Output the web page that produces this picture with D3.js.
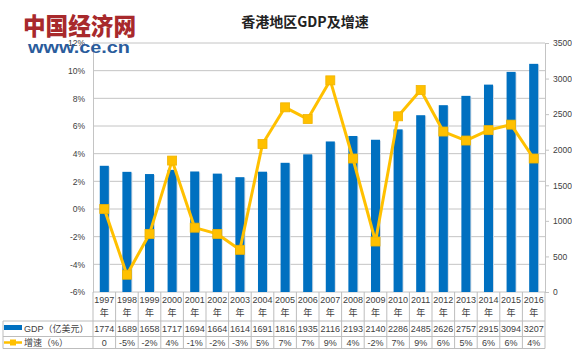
<!DOCTYPE html>
<html><head><meta charset="utf-8">
<script src="https://cdn.jsdelivr.net/npm/d3@7"></script>
<style>body{margin:0;background:#fff}svg{display:block}</style>
</head><body>
<script>
const years = ["1997","1998","1999","2000","2001","2002","2003","2004","2005","2006","2007","2008","2009","2010","2011","2012","2013","2014","2015","2016"];
const gdp = [1774,1689,1658,1717,1694,1664,1614,1691,1816,1935,2116,2193,2140,2286,2485,2626,2757,2915,3094,3207];
const growth = [0,-4.75,-1.8,3.5,-1.35,-1.8,-2.95,4.7,7.35,6.5,9.3,3.65,-2.35,6.7,8.6,5.6,4.95,5.7,6.1,3.65];
const growthLabels = ["0","-5%","-2%","4%","-1%","-2%","-3%","5%","7%","7%","9%","4%","-2%","7%","9%","6%","5%","6%","6%","4%"];
const leftTicks = [-6,-4,-2,0,2,4,6,8,10,12];
const rightTicks = [0,500,1000,1500,2000,2500,3000,3500];
const title = "香港地区GDP及增速";
const seriesNames = ["GDP（亿美元）","增速（%）"];

const W=572,H=356;
const L=93,R=545,T=43,B=292;
const svg=d3.select("body").append("svg").attr("width",W).attr("height",H);
const font="'Liberation Sans','Noto Sans CJK SC',sans-serif";

const x=d3.scaleBand().domain(years).range([L,R]);
const yL=d3.scaleLinear().domain([-6,12]).range([B,T]);
const yR=d3.scaleLinear().domain([0,3500]).range([B,T]);

// gridlines
svg.append("g").selectAll("line").data(leftTicks).join("line")
  .attr("x1",L).attr("x2",R).attr("y1",d=>yL(d)).attr("y2",d=>yL(d))
  .attr("stroke","#c4c4c4").attr("stroke-width",1);

// axes
const gl=svg.append("g").attr("transform",`translate(${L},0)`)
  .call(d3.axisLeft(yL).tickValues(leftTicks).tickFormat(d=>d+"%").tickSize(0).tickPadding(8));
const gr=svg.append("g").attr("transform",`translate(${R},0)`)
  .call(d3.axisRight(yR).tickValues(rightTicks).tickFormat(d3.format("d")).tickSize(4).tickPadding(4));
[gl,gr].forEach(g=>{
  g.selectAll("text").attr("font-family",font).attr("font-size",8.5).attr("fill","#404040");
  g.select(".domain").attr("stroke","#c4c4c4");
  g.selectAll(".tick line").attr("stroke","#c4c4c4");
});

// bars
const bw=x.bandwidth()*0.4;
svg.append("g").selectAll("rect.sh").data(gdp).join("rect")
  .attr("x",(d,i)=>x(years[i])+(x.bandwidth()-bw)/2+1).attr("y",d=>yR(d)+1)
  .attr("width",bw).attr("height",d=>B-yR(d)-1).attr("fill","#d5dde6");
svg.append("g").selectAll("rect").data(gdp).join("rect")
  .attr("x",(d,i)=>x(years[i])+(x.bandwidth()-bw)/2).attr("y",d=>yR(d))
  .attr("width",bw).attr("height",d=>B-yR(d)).attr("fill","#0070C0");

// line
const cx=i=>x(years[i])+x.bandwidth()/2;
svg.append("path").datum(growth)
  .attr("d",d3.line().x((d,i)=>cx(i)).y(d=>yL(d)))
  .attr("fill","none").attr("stroke","#FFC000").attr("stroke-width",3).attr("stroke-linejoin","round");
svg.append("g").selectAll("rect").data(growth).join("rect")
  .attr("x",(d,i)=>cx(i)-4.5).attr("y",d=>yL(d)-4.5).attr("width",9).attr("height",9)
  .attr("fill","#FFC000").attr("stroke","#F0B400").attr("stroke-width",0.8);

// table
const tg=svg.append("g");
const rowY=[B,321,336.5,348.5];
const gridC="#bdbdbd";
tg.append("line").attr("x1",L).attr("x2",L).attr("y1",B).attr("y2",rowY[3]).attr("stroke",gridC);
tg.selectAll("line.v").data(years).join("line").attr("class","v")
  .attr("x1",d=>x(d)+x.bandwidth()).attr("x2",d=>x(d)+x.bandwidth())
  .attr("y1",B).attr("y2",rowY[3]).attr("stroke",gridC);
[1,2,3].forEach(k=>tg.append("line").attr("x1",3).attr("x2",R).attr("y1",rowY[k]).attr("y2",rowY[k]).attr("stroke",gridC));
tg.append("line").attr("x1",3).attr("x2",3).attr("y1",rowY[1]).attr("y2",rowY[3]).attr("stroke",gridC);

const tf=9;
tg.selectAll("text.yr").data(years).join("text")
  .attr("x",d=>x(d)+x.bandwidth()/2).attr("y",302.5).attr("text-anchor","middle")
  .attr("font-family",font).attr("font-size",tf).attr("fill","#404040").text(d=>d);
tg.selectAll("text.nian").data(years).join("text")
  .attr("x",d=>x(d)+x.bandwidth()/2).attr("y",316).attr("text-anchor","middle")
  .attr("font-family",font).attr("font-size",tf).attr("fill","#404040").text("年");
tg.selectAll("text.gdp").data(gdp).join("text")
  .attr("x",(d,i)=>cx(i)).attr("y",332).attr("text-anchor","middle")
  .attr("font-family",font).attr("font-size",tf).attr("fill","#404040").text(d=>d);
tg.selectAll("text.gr").data(growthLabels).join("text")
  .attr("x",(d,i)=>cx(i)).attr("y",346).attr("text-anchor","middle")
  .attr("font-family",font).attr("font-size",tf).attr("fill","#404040").text(d=>d);

// legend keys in table
tg.append("rect").attr("x",4).attr("y",325).attr("width",18).attr("height",5).attr("fill","#0070C0");
tg.append("text").attr("x",24).attr("y",332).attr("font-family",font).attr("font-size",tf).attr("fill","#404040").text(seriesNames[0]);
tg.append("line").attr("x1",4).attr("x2",22).attr("y1",342.5).attr("y2",342.5).attr("stroke","#FFC000").attr("stroke-width",2.5);
tg.append("rect").attr("x",10).attr("y",339.5).attr("width",6).attr("height",6).attr("fill","#FFC000");
tg.append("text").attr("x",24).attr("y",346).attr("font-family",font).attr("font-size",tf).attr("fill","#404040").text(seriesNames[1]);

// title
svg.append("text").attr("x",305).attr("y",27).attr("text-anchor","middle")
  .attr("font-family","'Noto Sans CJK SC',sans-serif").attr("font-weight","bold").attr("font-size",14)
  .attr("fill","#222").text(title);

// logo watermark
svg.append("text").attr("x",23).attr("y",35).attr("textLength",113).attr("lengthAdjust","spacingAndGlyphs")
  .attr("font-family","'Noto Sans CJK SC',sans-serif").attr("font-weight","900").attr("font-size",24)
  .attr("fill","#a8292c").text("中国经济网");
svg.append("text").attr("x",28).attr("y",53).attr("textLength",102).attr("lengthAdjust","spacingAndGlyphs")
  .attr("font-family","'Liberation Sans',sans-serif").attr("font-weight","bold").attr("font-size",17)
  .attr("fill","#2a5c9c").text("www.ce.cn");
</script>
</body></html>
